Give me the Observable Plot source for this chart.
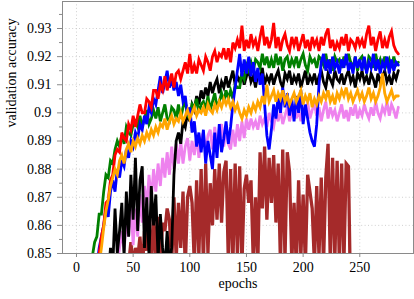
<!DOCTYPE html>
<html><head><meta charset="utf-8">
<script src="https://cdn.jsdelivr.net/npm/d3@7"></script>
<script src="https://cdn.jsdelivr.net/npm/@observablehq/plot@0.6"></script>
<style>body{margin:0;background:#fff}</style>
</head><body><div id="chart"></div>
<script>
const epochs = d3.range(12, 286, 2);      // 137 sampled epochs (12..284)
const brownEpochs = d3.range(40, 244, 2); // 102 sampled epochs (40..242)
const xTicks = [0, 50, 100, 150, 200, 250];
const yTicks = [0.85, 0.86, 0.87, 0.88, 0.89, 0.9, 0.91, 0.92, 0.93];
const yMinorTicks = [0.855, 0.865, 0.875, 0.885, 0.895, 0.905, 0.915, 0.925, 0.935];
const xLabel = "epochs";
const yLabel = "validation accuracy";

const red = [
0.835,0.838,0.842,0.846,0.850,0.856,0.860,0.868,0.869,0.876,
0.878,0.885,0.887,0.886,0.893,0.891,0.890,0.896,0.894,0.899,
0.895,0.899,0.903,0.900,0.900,0.905,0.904,0.902,0.908,0.908,
0.905,0.910,0.908,0.913,0.908,0.911,0.914,0.909,0.914,0.915,
0.912,0.915,0.918,0.914,0.921,0.914,0.917,0.914,0.919,0.917,
0.915,0.920,0.918,0.915,0.920,0.922,0.918,0.921,0.920,0.923,
0.919,0.923,0.918,0.925,0.923,0.926,0.923,0.931,0.922,0.926,
0.923,0.928,0.924,0.926,0.922,0.927,0.931,0.924,0.927,0.923,
0.926,0.932,0.923,0.927,0.922,0.926,0.928,0.924,0.922,0.927,
0.924,0.927,0.922,0.925,0.928,0.923,0.926,0.922,0.927,0.924,
0.926,0.922,0.927,0.924,0.928,0.930,0.923,0.926,0.922,0.925,
0.923,0.927,0.924,0.928,0.922,0.926,0.925,0.923,0.927,0.924,
0.926,0.923,0.928,0.931,0.924,0.927,0.922,0.926,0.929,0.923,
0.926,0.923,0.927,0.929,0.924,0.922,0.921];
const green = [
0.845,0.849,0.854,0.856,0.864,0.864,0.872,0.878,0.877,0.883,
0.882,0.887,0.890,0.888,0.892,0.889,0.895,0.893,0.892,0.896,
0.897,0.895,0.899,0.895,0.898,0.901,0.896,0.898,0.901,0.898,
0.902,0.897,0.900,0.903,0.898,0.897,0.902,0.901,0.898,0.903,
0.898,0.902,0.904,0.899,0.898,0.903,0.902,0.905,0.900,0.903,
0.904,0.901,0.906,0.901,0.904,0.907,0.902,0.904,0.907,0.904,
0.908,0.905,0.908,0.905,0.910,0.909,0.909,0.914,0.912,0.917,
0.915,0.918,0.915,0.919,0.918,0.916,0.921,0.917,0.920,0.916,
0.919,0.916,0.921,0.917,0.920,0.915,0.919,0.920,0.916,0.919,
0.917,0.920,0.916,0.919,0.921,0.917,0.915,0.920,0.918,0.919,
0.916,0.920,0.919,0.917,0.921,0.916,0.919,0.915,0.920,0.918,
0.919,0.916,0.920,0.917,0.921,0.918,0.916,0.920,0.915,0.919,
0.920,0.917,0.915,0.920,0.919,0.916,0.921,0.917,0.919,0.916,
0.920,0.917,0.919,0.916,0.920,0.917,0.918];
const black = [
0.800,0.805,0.810,0.815,0.820,0.825,0.830,0.836,0.842,0.852,
0.845,0.866,0.850,0.858,0.868,0.849,0.872,0.856,0.878,0.862,
0.884,0.858,0.876,0.881,0.852,0.870,0.849,0.874,0.860,0.871,
0.848,0.864,0.852,0.845,0.858,0.846,0.852,0.878,0.890,0.893,
0.889,0.897,0.895,0.900,0.897,0.903,0.901,0.906,0.903,0.908,
0.905,0.909,0.906,0.911,0.907,0.910,0.912,0.907,0.911,0.909,
0.913,0.909,0.912,0.915,0.910,0.913,0.911,0.914,0.910,0.913,
0.915,0.911,0.913,0.909,0.914,0.912,0.916,0.910,0.913,0.911,
0.914,0.910,0.913,0.915,0.911,0.909,0.914,0.912,0.915,0.910,
0.913,0.911,0.914,0.909,0.912,0.915,0.910,0.913,0.911,0.914,
0.910,0.913,0.915,0.911,0.909,0.914,0.912,0.910,0.915,0.912,
0.911,0.914,0.910,0.913,0.915,0.911,0.913,0.909,0.914,0.912,
0.915,0.911,0.913,0.910,0.914,0.912,0.909,0.914,0.911,0.913,
0.915,0.911,0.913,0.910,0.914,0.912,0.915];
const blue = [
0.825,0.830,0.838,0.845,0.852,0.856,0.860,0.866,0.863,0.872,
0.876,0.872,0.880,0.877,0.883,0.881,0.887,0.884,0.890,0.888,
0.893,0.891,0.896,0.894,0.899,0.896,0.902,0.900,0.905,0.903,
0.908,0.913,0.907,0.911,0.915,0.909,0.912,0.908,0.911,0.906,
0.910,0.904,0.906,0.899,0.902,0.893,0.897,0.888,0.893,0.886,
0.894,0.882,0.890,0.885,0.880,0.893,0.884,0.896,0.886,0.891,
0.897,0.889,0.895,0.903,0.909,0.915,0.921,0.913,0.919,0.914,
0.920,0.913,0.918,0.911,0.916,0.910,0.914,0.903,0.892,0.887,
0.894,0.903,0.898,0.906,0.900,0.909,0.902,0.907,0.899,0.905,
0.897,0.906,0.900,0.908,0.896,0.903,0.898,0.893,0.890,0.888,
0.896,0.910,0.918,0.921,0.915,0.919,0.914,0.920,0.916,0.918,
0.914,0.919,0.916,0.921,0.915,0.918,0.914,0.920,0.916,0.919,
0.915,0.920,0.914,0.918,0.916,0.921,0.915,0.919,0.914,0.918,
0.916,0.920,0.914,0.919,0.915,0.918,0.917];
const orange = [
0.825,0.829,0.834,0.840,0.846,0.852,0.859,0.865,0.869,0.874,
0.877,0.880,0.878,0.883,0.885,0.882,0.887,0.889,0.886,0.890,
0.888,0.891,0.889,0.892,0.890,0.893,0.891,0.894,0.892,0.895,
0.893,0.896,0.895,0.898,0.894,0.897,0.899,0.896,0.898,0.897,
0.900,0.897,0.899,0.901,0.898,0.900,0.902,0.899,0.901,0.900,
0.902,0.899,0.903,0.901,0.900,0.903,0.901,0.904,0.902,0.905,
0.903,0.905,0.902,0.904,0.901,0.903,0.900,0.898,0.901,0.899,
0.902,0.900,0.903,0.901,0.904,0.902,0.906,0.903,0.910,0.904,
0.906,0.908,0.904,0.907,0.905,0.908,0.904,0.906,0.903,0.905,
0.907,0.904,0.906,0.908,0.903,0.906,0.904,0.907,0.902,0.905,
0.903,0.906,0.904,0.907,0.905,0.908,0.904,0.906,0.903,0.907,
0.905,0.908,0.906,0.909,0.905,0.907,0.904,0.906,0.908,0.905,
0.907,0.904,0.906,0.909,0.905,0.907,0.904,0.906,0.909,0.914,
0.907,0.904,0.906,0.908,0.905,0.906,0.906];
const violet = [
0.800,0.803,0.806,0.810,0.814,0.818,0.822,0.826,0.830,0.834,
0.838,0.842,0.846,0.852,0.858,0.851,0.862,0.856,0.868,0.853,
0.866,0.856,0.871,0.861,0.874,0.866,0.878,0.869,0.880,0.872,
0.882,0.874,0.884,0.877,0.886,0.878,0.888,0.880,0.889,0.882,
0.890,0.882,0.888,0.891,0.883,0.890,0.885,0.892,0.884,0.891,
0.893,0.886,0.892,0.894,0.887,0.895,0.888,0.894,0.896,0.888,
0.895,0.889,0.887,0.894,0.888,0.896,0.890,0.897,0.891,0.898,
0.894,0.898,0.895,0.897,0.894,0.899,0.896,0.898,0.895,0.900,
0.897,0.895,0.900,0.897,0.901,0.896,0.899,0.902,0.897,0.900,
0.903,0.898,0.901,0.897,0.902,0.899,0.904,0.898,0.901,0.903,
0.899,0.902,0.897,0.901,0.904,0.898,0.902,0.899,0.901,0.897,
0.900,0.903,0.898,0.901,0.897,0.902,0.899,0.903,0.898,0.901,
0.899,0.903,0.900,0.898,0.902,0.899,0.904,0.900,0.898,0.902,
0.900,0.904,0.899,0.903,0.901,0.898,0.902];
const brown = [
0.830,0.842,0.850,0.846,0.854,0.845,0.852,0.848,0.856,0.843,
0.858,0.851,0.862,0.845,0.864,0.848,0.863,0.846,0.861,0.858,
0.866,0.862,0.846,0.870,0.848,0.868,0.852,0.872,0.845,0.870,
0.874,0.868,0.846,0.876,0.849,0.880,0.846,0.882,0.850,0.875,
0.860,0.880,0.862,0.882,0.861,0.879,0.883,0.847,0.880,0.846,
0.882,0.849,0.881,0.846,0.873,0.878,0.868,0.876,0.847,0.870,
0.846,0.886,0.866,0.888,0.862,0.884,0.868,0.885,0.861,0.882,
0.846,0.887,0.848,0.886,0.879,0.847,0.868,0.845,0.876,0.849,
0.871,0.846,0.878,0.872,0.866,0.846,0.874,0.849,0.877,0.846,
0.877,0.889,0.846,0.884,0.848,0.883,0.846,0.882,0.847,0.882,
0.881,0.830];

// draw order (bottom to top)
const seriesNames = ["brown", "violet", "black", "green", "blue", "red", "orange"];
const seriesValues = [brown, violet, black, green, blue, red, orange];
const seriesColors = ["#a52a2a", "#ee82ee", "#000000", "#008000", "#0000ff", "#ff0000", "#ffa500"];

const rows = seriesValues.flatMap((vals, k) => {
  const xs = seriesNames[k] === "brown" ? brownEpochs : epochs;
  return vals.map((v, i) => ({epoch: xs[i], acc: v, series: seriesNames[k]}));
});

const gridStyle = {stroke: "#c4c4c4", strokeOpacity: 1, strokeDasharray: "1,2.4", strokeWidth: 0.8};

const chart = Plot.plot({
  width: 414,
  height: 299,
  marginLeft: 62,
  marginRight: 1,
  marginTop: 1,
  marginBottom: 46,
  style: {fontFamily: "'Liberation Serif', 'DejaVu Serif', serif", fontSize: "14px", background: "#fff", color: "#000"},
  x: {domain: [-12.35, 297.4]},
  y: {domain: [0.85, 0.9396]},
  marks: [
    Plot.gridX(xTicks, gridStyle),
    Plot.gridY(yTicks, gridStyle),
    ...seriesNames.map((name, k) =>
      Plot.line(rows.filter(d => d.series === name), {
        x: "epoch", y: "acc", stroke: seriesColors[k], strokeWidth: name === "brown" ? 3.3 : 2.8,
        strokeLinejoin: "miter", strokeMiterlimit: 4, clip: true
      })),
    Plot.frame({stroke: "#8a8a8a", strokeWidth: 1}),
    Plot.axisX(xTicks, {tickSize: 4, tickPadding: 5, stroke: "#8a8a8a", label: null, tickFormat: d => String(d)}),
    Plot.axisY(yTicks, {tickSize: 5, tickPadding: 6, stroke: "#8a8a8a", label: null, tickFormat: d => String(+d.toFixed(2))}),
    Plot.axisY(yMinorTicks, {tickSize: 3, tickPadding: 0, stroke: "#8a8a8a", label: null, tickFormat: () => ""}),
    Plot.text([xLabel], {text: d => d, frameAnchor: "bottom", dy: 34, fontSize: 14}),
    Plot.text([yLabel], {text: d => d, frameAnchor: "left", rotate: -90, dx: -51, fontSize: 14})
  ]
});
document.getElementById("chart").appendChild(chart);
</script>
</body></html>
